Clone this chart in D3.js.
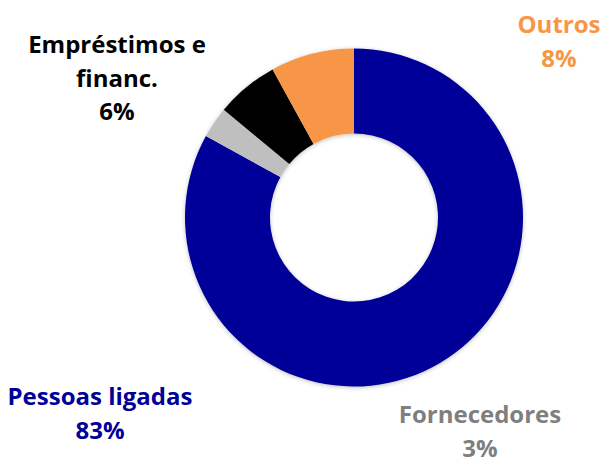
<!DOCTYPE html>
<html lang="pt">

<head>
    <meta charset="utf-8">
    <script src="https://d3js.org/d3.v7.min.js"></script>
    <style>
        body {
            margin: 0;
            background: #fff;
            font-family: "Open Sans", sans-serif;
        }
    </style>
</head>

<body>
    <div id="chart"></div>
    <script>
        // data
        var categories = ["Pessoas ligadas", "Fornecedores", "Empréstimos e financ.", "Outros"];
        var values = [83, 3, 6, 8];
        var sliceColors = ["#000099", "#BFBFBF", "#000000", "#F79646"];
        var labelColors = ["#000099", "#7F7F7F", "#000000", "#F79646"];

        var width = 603,
            height = 459,
            cx = 354,
            cy = 217.5,
            outerR = 169,
            innerR = 84;

        // label lines and anchor points (layout only)
        var labelLines = [
            ["Pessoas ligadas"],
            ["Fornecedores"],
            ["Empréstimos e", "financ."],
            ["Outros"]
        ];
        var labelPos = [
            { x: 100, y: 405 },
            { x: 480, y: 423 },
            { x: 117, y: 53 },
            { x: 559, y: 33 }
        ];

        var svg = d3.select("#chart")
            .append("svg")
            .attr("width", width)
            .attr("height", height);

        var defs = svg.append("defs");
        var filter = defs.append("filter")
            .attr("id", "shadow")
            .attr("x", "-10%").attr("y", "-10%")
            .attr("width", "120%").attr("height", "120%");
        filter.append("feDropShadow")
            .attr("dx", 0).attr("dy", 1)
            .attr("stdDeviation", 2)
            .attr("flood-color", "#000")
            .attr("flood-opacity", 0.25);

        var data = categories.map(function(c, i) {
            return { name: c, value: values[i], i: i };
        });

        var pie = d3.pie()
            .sort(null)
            .value(function(d) { return d.value; });

        var arc = d3.arc()
            .innerRadius(innerR)
            .outerRadius(outerR);

        var g = svg.append("g")
            .attr("transform", "translate(" + cx + "," + cy + ")")
            .attr("filter", "url(#shadow)");

        g.selectAll("path")
            .data(pie(data))
            .enter()
            .append("path")
            .attr("d", arc)
            .attr("fill", function(d) { return sliceColors[d.data.i]; });

        // labels
        var labels = svg.selectAll(".lbl")
            .data(data)
            .enter()
            .append("text")
            .attr("class", "lbl")
            .attr("text-anchor", "middle")
            .style("font-size", "24px")
            .style("font-weight", "bold")
            .attr("fill", function(d) { return labelColors[d.i]; });

        labels.each(function(d) {
            var t = d3.select(this);
            var lines = labelLines[d.i].concat([d.value + "%"]);
            var p = labelPos[d.i];
            lines.forEach(function(line, k) {
                t.append("tspan")
                    .attr("x", p.x)
                    .attr("y", p.y + k * 33.7)
                    .text(line);
            });
        });
    </script>
</body>

</html>
